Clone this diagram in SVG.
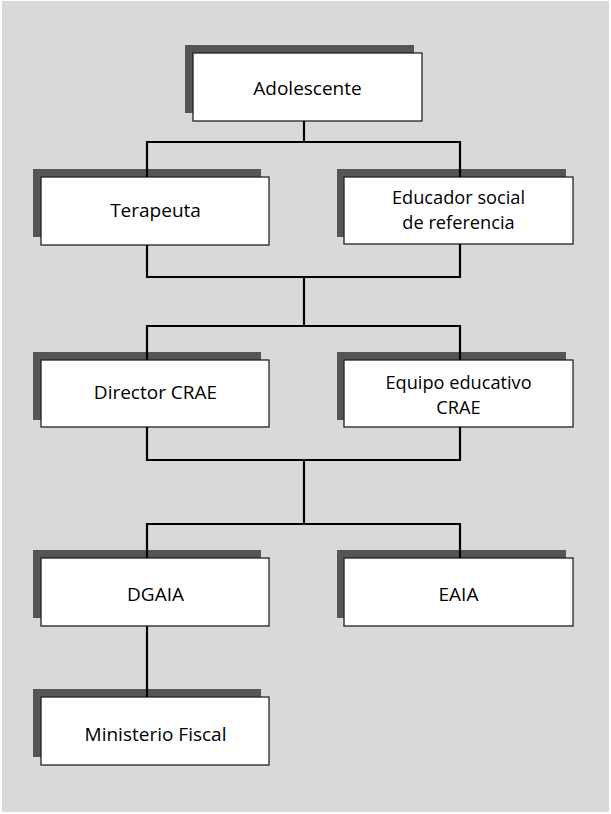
<svg xmlns="http://www.w3.org/2000/svg" width="611" height="814" viewBox="0 0 611 814">
<style>
.bg{fill:#ffffff}
.panel{fill:#d9d9d9}
.sh{fill:#555555}
.box{fill:#ffffff;stroke:#222222;stroke-width:1.3}
.t{font-family:"Open Sans","Noto Sans","DejaVu Sans",sans-serif;font-size:19px;fill:#000000;text-anchor:middle}
.t2{font-size:18.2px}
.c{fill:none;stroke:#000000;stroke-width:2.2}
</style>
<rect class="bg" x="0" y="0" width="611" height="814"/>
<rect class="panel" x="2" y="1" width="607" height="811"/>

<g id="node-adolescente">
<rect class="sh" x="185" y="45" width="229" height="68"/>
<rect class="box" x="193" y="53" width="229" height="68"/>
<text class="t" x="307.5" y="95">Adolescente</text>
</g>
<g id="node-terapeuta">
<rect class="sh" x="33" y="169" width="228" height="68"/>
<rect class="box" x="41" y="177" width="228" height="68"/>
<text class="t" x="155.5" y="216.5">Terapeuta</text>
</g>
<g id="node-educador">
<rect class="sh" x="337" y="169" width="229" height="68"/>
<rect class="box" x="344" y="177" width="229" height="67"/>
<text class="t t2" x="458.5" y="204">Educador social</text>
<text class="t t2" x="458.5" y="228.8">de referencia</text>
</g>
<g id="node-director">
<rect class="sh" x="33" y="352" width="228" height="68"/>
<rect class="box" x="41" y="360" width="228" height="67"/>
<text class="t" x="155.5" y="399">Director CRAE</text>
</g>
<g id="node-equipo">
<rect class="sh" x="337" y="352" width="229" height="68"/>
<rect class="box" x="344" y="360" width="229" height="67"/>
<text class="t t2" x="458.5" y="389">Equipo educativo</text>
<text class="t t2" x="458.5" y="413.8">CRAE</text>
</g>
<g id="node-dgaia">
<rect class="sh" x="33" y="550" width="228" height="68"/>
<rect class="box" x="41" y="558" width="228" height="68"/>
<text class="t" x="155.5" y="600.5">DGAIA</text>
</g>
<g id="node-eaia">
<rect class="sh" x="337" y="550" width="229" height="68"/>
<rect class="box" x="344" y="558" width="229" height="68"/>
<text class="t" x="458.5" y="600.5">EAIA</text>
</g>
<g id="node-ministerio">
<rect class="sh" x="33" y="689" width="228" height="68"/>
<rect class="box" x="41" y="697" width="228" height="68"/>
<text class="t" x="155.5" y="740.5">Ministerio Fiscal</text>
</g>

<g id="connectors">
<path class="c" d="M304,121 V142 M147,177 V142 H460 V177"/>
<path class="c" d="M147,245 V277 H460 V244 M304,277 V326 M147,360 V326 H460 V360"/>
<path class="c" d="M147,427 V460 H460 V427 M304,460 V524 M147,558 V524 H460 V558"/>
<path class="c" d="M147,626 V697"/>
</g>
</svg>
